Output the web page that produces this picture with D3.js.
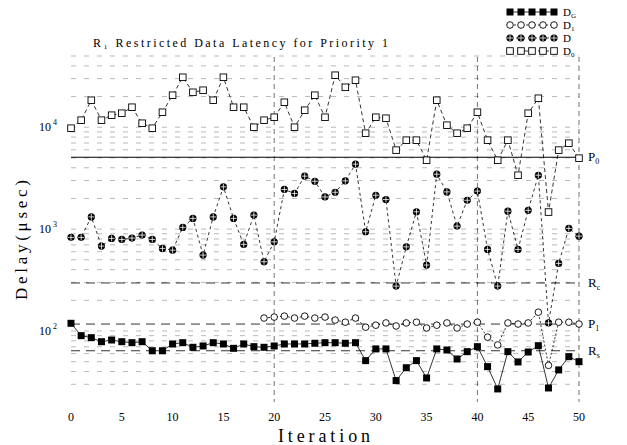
<!DOCTYPE html>
<html>
<head>
<meta charset="utf-8">
<script src="https://cdn.jsdelivr.net/npm/d3@7"></script>
<style>
  body { margin: 0; background: #fff; }
  svg text { font-family: "Liberation Serif", "DejaVu Serif", serif; fill: #000; }
</style>
</head>
<body>
<script>
'use strict';

// iteration axis
const xTicks = [0, 5, 10, 15, 20, 25, 30, 35, 40, 45, 50];
const xGrid = [20, 40, 50];
const yTicks = [100, 1000, 10000];
const yTickExp = ['2', '3', '4'];

// delay in usec, one value per iteration 0..50
const dG = [119, 90, 86, 78.5, 81.6, 78.5, 76.8, 78.5, 64, 64,
  74.6, 76.8, 69.2, 71.3, 76.8, 74.6, 67.6, 74.6, 70.2, 69.2,
  71.3, 74.6, 74.6, 74.6, 75.8, 76.8, 76.8, 75.8, 76.8, 51.2,
  66.7, 66.7, 32.6, 43.6, 51.2, 34.6, 66.7, 65.1, 53.1, 62.7,
  70.2, 44.7, 27, 62.7, 49.7, 62.2, 71.8, 27.6, 41.5, 56, 50];

const dMain = [830, 830, 1318, 681, 811, 792, 817, 874, 792, 647,
  622, 1040, 1274, 556, 1318, 2600, 1274, 708, 1372, 478,
  750, 2450, 2240, 3310, 2950, 2070, 2300, 2980, 4340, 942,
  2150, 1950, 276, 670, 1480, 444, 3460, 2320, 1070, 1920,
  2360, 632, 276, 1500, 632, 1530, 3380, 120, 461, 1017, 853];

const d0 = [9780, 11720, 18400, 11720, 13120, 13720, 15710, 10940, 9780, 14030,
  20600, 30920, 22030, 23060, 18400, 30920, 15710, 15710, 10000, 11720,
  12530, 17580, 10000, 14690, 20600, 12530, 32370, 24660, 28910, 8730,
  12530, 12250, 5960, 7460, 7460, 4740, 18400, 10470, 8730, 9780,
  14030, 7460, 4740, 7460, 3380, 13720, 19240, 1470, 5960, 6970, 4970];

// D1 only shows from iteration 19 on
const d1Start = 19;
const d1 = [134, 137, 140, 134, 140, 134, 137, 128, 122, 134,
  109, 114, 120, 112, 120, 122, 107, 114, 120, 107,
  117, 122, 87, 73, 120, 117, 120, 153, 46, 122, 122, 117];

// reference levels on the right
const refNames = [['P', '0'], ['R', 'c'], ['P', '1'], ['R', 's']];
const refValues = [5080, 296, 117, 64];

const legendNames = [['D', 'G'], ['D', '1'], ['D', ''], ['D', '0']];

(function() {

const margin = {top: 51, right: 48, bottom: 47, left: 71},
    width = 627 - margin.left - margin.right,
    height = 445 - margin.top - margin.bottom;

let x = d3.scaleLinear().domain([0, 50]).range([0, width]);
let y = d3.scaleLog().domain([22, 56000]).range([height, 0]);

let root = d3.select('body').append('svg')
    .attr('width', 627)
    .attr('height', 445);

let svg = root.append('g')
    .attr('transform', 'translate(' + margin.left + ',' + margin.top + ')');

// dashed grid, log minor ticks
svg.append('g').selectAll('line')
    .data(y.ticks())
  .enter().append('line')
    .attr('x1', 0).attr('x2', width)
    .attr('y1', d => y(d)).attr('y2', d => y(d))
    .attr('stroke', '#000')
    .attr('stroke-width', 0.7)
    .attr('stroke-opacity', 0.4)
    .attr('stroke-dasharray', '5,8');

svg.append('g').selectAll('line')
    .data(xGrid)
  .enter().append('line')
    .attr('x1', d => x(d)).attr('x2', d => x(d))
    .attr('y1', 6).attr('y2', height + 4)
    .attr('stroke', '#000')
    .attr('stroke-width', 0.8)
    .attr('stroke-opacity', 0.7)
    .attr('stroke-dasharray', '5,4');

// reference levels
svg.append('g').selectAll('line')
    .data(refValues)
  .enter().append('line')
    .attr('x1', 0).attr('x2', width)
    .attr('y1', d => y(d)).attr('y2', d => y(d))
    .attr('stroke', '#000')
    .attr('stroke-width', (d, i) => i === 0 ? 1.1 : 0.8)
    .attr('stroke-dasharray', (d, i) => i === 0 ? null : '9,6');

let refLab = svg.append('g').selectAll('text')
    .data(refValues)
  .enter().append('text')
    .attr('x', width + 9)
    .attr('y', d => y(d) + 4)
    .style('font-size', '13px');
refLab.append('tspan').text((d, i) => refNames[i][0]);
refLab.append('tspan').attr('dy', 3).style('font-size', '8px').text((d, i) => refNames[i][1]);

// x axis labels (no axis line in the original)
svg.append('g').selectAll('text')
    .data(xTicks)
  .enter().append('text')
    .attr('x', d => x(d))
    .attr('y', height + 23)
    .style('text-anchor', 'middle')
    .style('font-size', '12px')
    .text(d => d);

// y axis labels 10^n
let yLab = svg.append('g').selectAll('text')
    .data(yTicks)
  .enter().append('text')
    .attr('x', -32)
    .attr('y', d => y(d) + 4)
    .style('font-size', '12px');
yLab.append('tspan').text('10');
yLab.append('tspan').attr('dx', 2).attr('dy', -6).style('font-size', '8px').text((d, i) => yTickExp[i]);

// markers
function marker(g, type, cx, cy) {
  if (type === 'G') {
    g.append('rect').attr('x', cx - 3.5).attr('y', cy - 3.5)
      .attr('width', 7).attr('height', 7).attr('fill', '#000');
  } else if (type === '1') {
    g.append('circle').attr('cx', cx).attr('cy', cy).attr('r', 3.3)
      .attr('fill', '#fff').attr('stroke', '#000').attr('stroke-width', 0.9);
  } else if (type === '') {
    g.append('circle').attr('cx', cx).attr('cy', cy).attr('r', 3.6)
      .attr('fill', '#000');
    g.append('path').attr('d', 'M' + (cx - 3) + ',' + cy + 'H' + (cx + 3) + 'M' + cx + ',' + (cy - 3) + 'V' + (cy + 3))
      .attr('stroke', '#fff').attr('stroke-width', 0.8);
  } else {
    g.append('rect').attr('x', cx - 3.3).attr('y', cy - 3.3)
      .attr('width', 6.6).attr('height', 6.6)
      .attr('fill', '#fff').attr('stroke', '#000').attr('stroke-width', 0.9);
  }
}

const series = [
  {key: 'G', values: dG, start: 0, dash: null},
  {key: '1', values: d1, start: d1Start, dash: '2,2'},
  {key: '', values: dMain, start: 0, dash: '3,3'},
  {key: '0', values: d0, start: 0, dash: '4,3'}
];

let line = d3.line()
    .x(d => x(d[0]))
    .y(d => y(d[1]));

series.forEach(function (s) {
  let pts = s.values.map((v, i) => [i + s.start, v]);
  svg.append('path')
      .datum(pts)
      .attr('d', line)
      .attr('fill', 'none')
      .attr('stroke', '#000')
      .attr('stroke-width', 0.8)
      .attr('stroke-dasharray', s.dash);
  let g = svg.append('g');
  pts.forEach(p => marker(g, s.key, x(p[0]), y(p[1])));
});

// legend top right
let leg = root.append('g');
series.forEach(function (s, i) {
  let ly = 12 + i * 13;
  leg.append('line')
      .attr('x1', 510).attr('x2', 554)
      .attr('y1', ly).attr('y2', ly)
      .attr('stroke', '#000').attr('stroke-width', 0.8)
      .attr('stroke-dasharray', s.dash);
  for (let k = 0; k < 5; k++) marker(leg, s.key, 510 + k * 11, ly);
  let t = leg.append('text')
      .attr('x', 563).attr('y', ly + 4)
      .style('font-size', '11px');
  t.append('tspan').text(legendNames[i][0]);
  t.append('tspan').attr('dy', 1.5).style('font-size', '7px').text(legendNames[i][1]);
});

// titles
root.append('text')
    .attr('x', 93).attr('y', 47)
    .attr('textLength', 295)
    .attr('lengthAdjust', 'spacing')
    .style('font-size', '12px')
    .text('R\u2081  Restricted Data Latency for Priority 1');

root.append('text')
    .attr('transform', 'translate(27,240) rotate(-90)')
    .attr('textLength', 120)
    .attr('lengthAdjust', 'spacing')
    .style('text-anchor', 'middle')
    .style('font-size', '17px')
    .text('Delay(\u03bcsec)');

root.append('text')
    .attr('x', 278).attr('y', 442)
    .attr('textLength', 92)
    .attr('lengthAdjust', 'spacing')
    .style('font-size', '18px')
    .text('Iteration');

})();
</script>
</body>
</html>
